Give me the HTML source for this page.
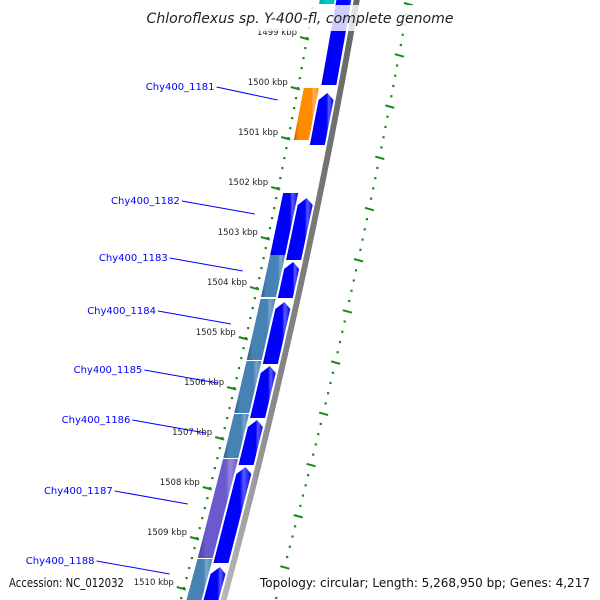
<!DOCTYPE html>
<html><head><meta charset="utf-8"><style>
html,body{margin:0;padding:0;background:#fff;}
svg{display:block;font-family:"DejaVu Sans","Liberation Sans",sans-serif;}
</style></head><body>
<svg id="map" width="600" height="600" viewBox="0 0 600 600" xmlns="http://www.w3.org/2000/svg">
<defs>
<linearGradient id="gBlue" x1="0" x2="1" y1="0" y2="0"><stop offset="0" stop-color="#0000c8"/><stop offset="0.15" stop-color="#0000ff"/><stop offset="0.7" stop-color="#0000ff"/><stop offset="0.8" stop-color="#5a5aff"/><stop offset="1" stop-color="#0000ee"/></linearGradient>
<linearGradient id="gSteel" x1="0" x2="1"><stop offset="0" stop-color="#2f5e85"/><stop offset="0.2" stop-color="#4682b4"/><stop offset="0.7" stop-color="#4682b4"/><stop offset="0.8" stop-color="#7aa6cc"/><stop offset="1" stop-color="#4682b4"/></linearGradient>
<linearGradient id="gPurple" x1="0" x2="1"><stop offset="0" stop-color="#4b3fa0"/><stop offset="0.2" stop-color="#6a5acd"/><stop offset="0.7" stop-color="#6a5acd"/><stop offset="0.8" stop-color="#9488e0"/><stop offset="1" stop-color="#6a5acd"/></linearGradient>
<linearGradient id="gOrange" x1="0" x2="1"><stop offset="0" stop-color="#c06000"/><stop offset="0.2" stop-color="#ff8c00"/><stop offset="0.7" stop-color="#ff8c00"/><stop offset="0.8" stop-color="#ffb060"/><stop offset="1" stop-color="#ff8c00"/></linearGradient>
<linearGradient id="gCyan" x1="0" x2="1"><stop offset="0" stop-color="#00aaaa"/><stop offset="0.5" stop-color="#00cccc"/><stop offset="1" stop-color="#00aaaa"/></linearGradient>
<linearGradient id="gGray" x1="0" x2="1"><stop offset="0" stop-color="#bbb"/><stop offset="0.4" stop-color="#888"/><stop offset="1" stop-color="#666"/></linearGradient>
</defs>
<g id="layer"></g>
</svg>
<script>
// data
const tickKbp = [1499,1500,1501,1502,1503,1504,1505,1506,1507,1508,1509,1510];
const geneStart = [1497.9, 1497.3, 1500.0, 1500.1, 1502.1, 1502.2, 1503.34, 1503.48, 1504.22, 1504.28, 1505.46, 1505.56, 1506.52, 1506.64, 1507.42, 1507.58, 1509.42, 1509.58];
const geneEnd   = [1498.32,1499.94,1501.04,1501.14,1503.34,1503.44,1504.18, 1504.2, 1505.44, 1505.52, 1506.5, 1506.6, 1507.4, 1507.54, 1509.4, 1509.5, 1510.6, 1510.6];
const geneTrack = [0,1,0,1,0,1,0,1,0,1,0,1,0,1,0,1,0,1];
const geneArrow = [0,0,0,1,0,1,0,1,0,1,0,1,0,1,0,1,0,1];
const geneColor = ['gCyan','gBlue','gOrange','gBlue','gBlue','gBlue','gSteel','gBlue','gSteel','gBlue','gSteel','gBlue','gSteel','gBlue','gPurple','gBlue','gSteel','gBlue'];
const labelText = ['Chy400_1181','Chy400_1182','Chy400_1183','Chy400_1184','Chy400_1185','Chy400_1186','Chy400_1187','Chy400_1188'];
const labelGeneIdx = [2,4,6,8,10,12,14,16];
const labelKbp = [1500.24,1502.52,1503.66,1504.72,1505.9,1506.9,1508.32,1509.72];

const NS='http://www.w3.org/2000/svg';
const layer=document.getElementById('layer');
function yOf(k){return 38+(k-1499)*50;}
function D(y){const t=(y-38)/50;return 307-9*t-0.2*t*t;}
function mk(tag,attrs,parent){const e=document.createElementNS(NS,tag);for(const a in attrs)e.setAttribute(a,attrs[a]);(parent||layer).appendChild(e);return e;}

// inner dotted ring
const gIn=mk('g',{});


for(let y=-12;y<=610;y+=10){const x=D(y);mk('rect',{x:x-1,y:y-1,width:2.2,height:2.2,fill:'#1a8a1a'},gIn);}
// outer dotted ring
const gOut=mk('g',{});


let oi=0;
for(let y=-16.5;y<=610;y+=10.24,oi++){const x=D(y)+95;
 if(oi%5==2){mk('line',{x1:x-4,y1:y-1,x2:x+5,y2:y+1.5,stroke:'#1a8a1a','stroke-width':2},gOut);}
 else mk('rect',{x:x-1,y:y-1,width:2.2,height:2.2,fill:'#1a8a1a'},gOut);}

// ticks and labels
tickKbp.forEach(k=>{const y=yOf(k),x=D(y);
 const l=mk('line',{x1:x-7,y1:y-1,x2:x+2,y2:y+1.5,stroke:'#1a8a1a','stroke-width':2});
 
 
 const t=mk('text',{x:x-10,y:y-3,'font-size':8.5,fill:'#222','text-anchor':'end'});
 t.textContent=k+' kbp';
 
 
});

// backbone
const bb=[];for(let y=-5;y<=605;y+=5)bb.push([D(y)+40,y]);
const bbb=[];for(let y=605;y>=-5;y-=5)bbb.push([D(y)+46,y]);
const back=mk('polygon',{points:bb.concat(bbb).map(p=>p.join(',')).join(' '),fill:'url(#gGray)'});



// genes
geneStart.forEach((s,i)=>{
 const y1=yOf(s),y2=yOf(geneEnd[i]);
 const o1=geneTrack[i]?23:6,o2=geneTrack[i]?38:21;
 let pts;
 if(geneArrow[i]){const h=7;const xm1=D(y1)+(o1+o2)/2;
  pts=[[D(y1+h)+o1,y1+h],[xm1,y1],[D(y1+h)+o2,y1+h],[D(y2)+o2,y2],[D(y2)+o1,y2]];}
 else pts=[[D(y1)+o1,y1],[D(y1)+o2,y1],[D(y2)+o2,y2],[D(y2)+o1,y2]];
 const p=mk('polygon',{points:pts.map(q=>q.join(',')).join(' '),fill:'url(#'+geneColor[i]+')'});
 
 
});

// gene labels
labelText.forEach((txt,j)=>{
 const y=yOf(labelKbp[j]);const gx=D(y)+4;
 const tx=gx-97+ (j==0?12:0);
 const t=mk('text',{x:tx,y:y-10,'font-size':10,fill:'#0000ff','text-anchor':'end'});
 t.textContent=txt;
 
 
 const l=mk('line',{x1:tx+2,y1:y-13,x2:gx-22,y2:y,stroke:'#0000ff','stroke-width':1});
 
 
});

// title & footer
const tb=mk('rect',{x:143,y:5,width:314,height:26,fill:'#fff','fill-opacity':0.8});


const title=mk('text',{x:300,y:23,'font-size':14,'font-style':'italic','text-anchor':'middle',fill:'#222',textLength:307,lengthAdjust:'spacingAndGlyphs'});
title.textContent='Chloroflexus sp. Y-400-fl, complete genome';


const ab=mk('rect',{x:4,y:571,width:123,height:24,fill:'#fff','fill-opacity':0.8});


const acc=mk('text',{x:9,y:587,'font-size':12.5,fill:'#111',textLength:115,lengthAdjust:'spacingAndGlyphs'});
acc.textContent='Accession: NC_012032';


const tpb=mk('rect',{x:234,y:571,width:362,height:24,fill:'#fff','fill-opacity':0.8});


const topo=mk('text',{x:260,y:587,'font-size':12.5,fill:'#111',textLength:330,lengthAdjust:'spacingAndGlyphs'});
topo.textContent='Topology: circular; Length: 5,268,950 bp; Genes: 4,217';


</script>
</body></html>
